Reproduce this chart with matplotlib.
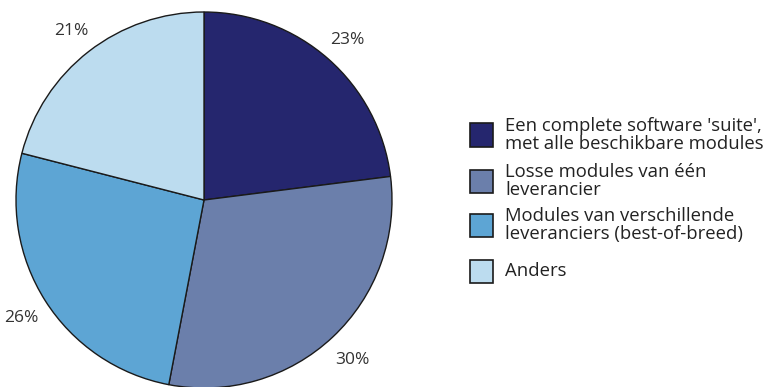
import matplotlib.pyplot as plt
from matplotlib.patches import Rectangle

plt.rcParams['font.family'] = ['Open Sans', 'DejaVu Sans']

# Share of answers per option
labels = [
    "Een complete software 'suite',\nmet alle beschikbare modules",
    "Losse modules van één\nleverancier",
    "Modules van verschillende\nleveranciers (best-of-breed)",
    "Anders",
]
values = [23, 30, 26, 21]
colors = ['#25266e', '#6b7fab', '#5da5d4', '#bcdcef']

W, H = 765, 387
fig = plt.figure(figsize=(W / 100, H / 100), dpi=100)

# pie axes: centre (204, 200) px, radius 188 px
cx, cy, r = 204, 200, 188
ax = fig.add_axes([(cx - r) / W, (H - cy - r) / H, 2 * r / W, 2 * r / H])
wedges, texts = ax.pie(
    values, colors=colors, startangle=90, counterclock=False,
    labels=[f'{v}%' for v in values], labeldistance=1.15,
    wedgeprops=dict(edgecolor='#1a1a1a', linewidth=1.0),
    textprops=dict(fontsize=12.5, color='#333333'),
)
for t in texts:
    t.set_horizontalalignment('center')
    t.set_verticalalignment('center_baseline')
ax.set_xlim(-1, 1)
ax.set_ylim(-1, 1)
ax.set_aspect('equal')
ax.axis('off')

# legend drawn by hand in pixel positions
centres = [135, 181, 225, 271]
sq = 23
for c, lab, y in zip(colors, labels, centres):
    fig.add_artist(Rectangle((470 / W, (H - y - sq / 2) / H), sq / W, sq / H,
                             transform=fig.transFigure, facecolor=c,
                             edgecolor='#1a1a1a', linewidth=1.2))
    fig.text(505 / W, (H - y) / H, lab, ha='left', va='center',
             fontsize=13.3, color='#222222', linespacing=0.95)

fig.savefig('out.png', dpi=100)
